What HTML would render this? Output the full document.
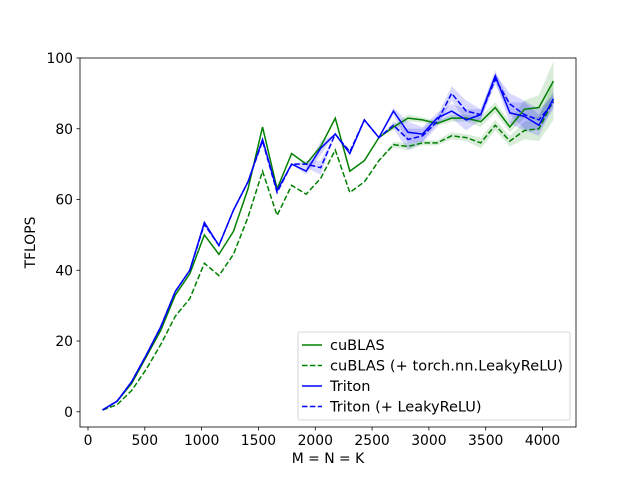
<!DOCTYPE html>
<html><head><meta charset="utf-8"><style>
body{margin:0;background:#fff}
svg{font-family:"DejaVu Sans","Liberation Sans",sans-serif}
</style></head><body>
<svg id="c" width="640" height="480"></svg>
<script>
const xs=[];for(let k=1;k<=32;k++)xs.push(128*k);
const cublas=[0.5,3,8,15.5,23,33,39,50,44.5,51,63,80.5,63,73,70,75,83,68,71,77.5,80.5,83,82.5,81.5,83,83,82,86,80.5,85.5,86,93.5];
const cublasLeaky=[0.5,2,6,12,19,27,32,42,38.5,44.5,55,68,55.5,64,61.5,66,74,62,65,71,75.5,75,76,76,78,77.5,76,81,76.5,79.5,80,88];
const triton=[0.5,3,8.5,16,24,34,40,53.5,47,57,65,77,62.5,70,68,74.5,78.5,73,82.5,77.5,85,79,78.5,83,85,82.5,84,95,84.5,83.5,81,88.5];
const tritonLeaky=[0.5,3,8.5,16,24,34,40,53,47,57,65,76.5,62,70,70,69,78.5,73.5,82.5,77.5,81,77,78,82,90,85,84,94,87,84,82.5,87.5];
const bandG=[0,0,0,0,0,0,0,0,0,0,0,0,0,0,0,0,0,0,0,0,0.8,1,0.7,0.7,1,1,1.5,1.5,1.5,2.5,3.5,5.5];
const bandB=[0,0,0,0,0,0,0,0.7,0,0,0,0,0,0,1,2,0,0,0,0,1,3,2,1.5,2,3,1.5,1.5,3,4,3,2];
const xTicks=[0,500,1000,1500,2000,2500,3000,3500,4000];
const yTicks=[0,20,40,60,80,100];
const L=80,R=576,T=58,B=427,xmin=-70.4,xmax=4294.4,ymin=-4.3,ymax=100;
const X=v=>L+(v-xmin)/(xmax-xmin)*(R-L),Y=v=>B-(v-ymin)/(ymax-ymin)*(B-T);
const s=document.getElementById('c'),NS='http://www.w3.org/2000/svg';
function mk(t,a,p){const e=document.createElementNS(NS,t);for(const k in a)e.setAttribute(k,a[k]);(p||s).appendChild(e);return e;}
function band(d,w,col,name){let up=xs.map((x,i)=>X(x)+','+Y(d[i]+w[i])),lo=xs.map((x,i)=>X(x)+','+Y(d[i]-w[i])).reverse();
const e=mk('polygon',{points:up.concat(lo).join(' '),fill:col,'fill-opacity':0.15,stroke:'none'});

}
function line(d,col,dash,name){const e=mk('polyline',{points:xs.map((x,i)=>X(x)+','+Y(d[i])).join(' '),fill:'none',stroke:col,'stroke-width':1.5,'stroke-dasharray':dash||'none'});

}
band(cublas,bandG,'green','cublas-band');band(cublasLeaky,bandG,'green','cublas-leaky-band');
band(triton,bandB,'blue','triton-band');band(tritonLeaky,bandB,'blue','triton-leaky-band');
line(cublas,'green',null,'cublas-line');line(cublasLeaky,'green','5.5,2.4','cublas-leaky-line');
line(triton,'blue',null,'triton-line');line(tritonLeaky,'blue','5.5,2.4','triton-leaky-line');
const fr=mk('rect',{x:L,y:T,width:R-L,height:B-T,fill:'none',stroke:'#000','stroke-width':0.8});


xTicks.forEach(v=>{mk('line',{x1:X(v),x2:X(v),y1:B,y2:B+3.5,stroke:'#000','stroke-width':0.8});
const t=mk('text',{x:X(v),y:B+18,'text-anchor':'middle','font-size':13.9});t.textContent=v;

});
yTicks.forEach(v=>{mk('line',{x1:L-3.5,x2:L,y1:Y(v),y2:Y(v),stroke:'#000','stroke-width':0.8});
const t=mk('text',{x:L-7,y:Y(v)+5,'text-anchor':'end','font-size':13.9});t.textContent=v;

});
const xl=mk('text',{x:(L+R)/2,y:B+36,'text-anchor':'middle','font-size':13.9});xl.textContent='M = N = K';


const yl=mk('text',{x:0,y:0,'text-anchor':'middle','font-size':13.9,transform:`translate(35,${(T+B)/2}) rotate(-90)`});yl.textContent='TFLOPS';


const lg=mk('g',{});


mk('rect',{x:298,y:332,width:272,height:88,rx:2,fill:'#fff','fill-opacity':0.8,stroke:'#ccc','stroke-width':0.8},lg);
[['cuBLAS','green',null],['cuBLAS (+ torch.nn.LeakyReLU)','green','5.5,2.4'],['Triton','blue',null],['Triton (+ LeakyReLU)','blue','5.5,2.4']].forEach((e,i)=>{
const y=345+i*20.5;
mk('line',{x1:302,x2:322,y1:y,y2:y,stroke:e[1],'stroke-width':1.5,'stroke-dasharray':e[2]||'none'},lg);
const t=mk('text',{x:330,y:y+5,'font-size':14.5,textLength:e[0].length>25?233:null},lg);t.textContent=e[0];
if(e[0].length<=25)t.removeAttribute('textLength');

});
</script>
</body></html>
